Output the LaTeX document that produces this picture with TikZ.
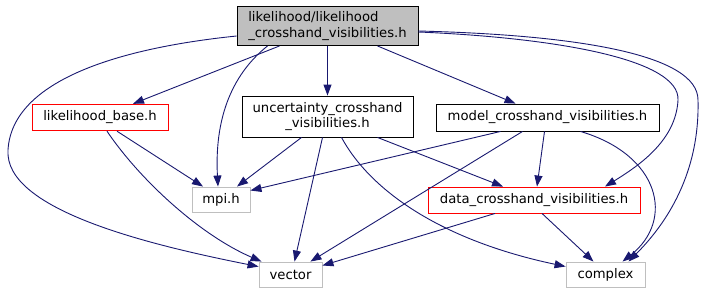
\documentclass[tikz,border=0pt]{standalone}
\usepackage{fontspec}
\setmainfont{DejaVu Sans}
\usetikzlibrary{arrows.meta,calc}
\definecolor{edgeblue}{HTML}{191970}
\definecolor{boxgray}{HTML}{BFBFBF}
\definecolor{boxred}{HTML}{FF0000}
\begin{document}
\begin{tikzpicture}[x=1pt,y=-1pt,
  every node/.style={font=\fontsize{13.2}{15.3}\selectfont, inner sep=0pt, text=black},
  filebox/.style={draw=black, fill=white, line width=0.9pt},
  mainbox/.style={draw=black, fill=boxgray, line width=0.9pt, align=left},
  redbox/.style={draw=boxred, fill=white, line width=0.9pt},
  sysbox/.style={draw=boxgray, fill=white, line width=0.9pt},
  edge/.style={draw=edgeblue, line width=0.9pt, -{Triangle[length=11pt,width=8pt]}}]
\useasboundingbox (0,0) rectangle (706,293);

% headers
\node[mainbox, minimum width=181, minimum height=39] (top) at (327.5,26)
  {likelihood/likelihood\\\_crosshand\_visibilities.h};
\node[redbox, minimum width=136, minimum height=26.5] (lb) at (100,117.5) {likelihood\_base.h};
\node[filebox, minimum width=171, minimum height=41, align=center] (unc) at (327.5,116.5)
  {uncertainty\_crosshand\\\_visibilities.h};
\node[filebox, minimum width=223, minimum height=27] (model) at (547.5,117.5) {model\_crosshand\_visibilities.h};
\node[sysbox, minimum width=58, minimum height=25] (mpi) at (221,199.5) {mpi.h};
\node[redbox, minimum width=212, minimum height=26] (data) at (534,200) {data\_crosshand\_visibilities.h};
\node[sysbox, minimum width=63, minimum height=25] (vec) at (290.5,274.5) {vector};
\node[sysbox, minimum width=79, minimum height=25] (cpx) at (605.5,274.5) {complex};

% includes of the main header
\draw[edge] ($(top.south)+(-48,0)$) -- ($(lb.north)+(33,0)$);
\draw[edge] ($(top.west)+(0,10)$) .. controls (120,48) and (12,80) .. (8,150)
  .. controls (4,210) and (150,245) .. ($(vec.north west)+(0,5)$);
\draw[edge] ($(top.south)+(-60,0)$) .. controls (225,80) and (215,130) .. ($(mpi.north)+(-3,0)$);
\draw[edge] (top.south) -- (unc.north);
\draw[edge] ($(top.south)+(50,0)$) -- ($(model.north)+(-32,0)$);
\draw[edge] ($(top.east)+(0,6)$) .. controls (560,38) and (680,60) .. (678,100)
  .. controls (676,140) and (640,165) .. ($(data.north)+(71,0)$);
\draw[edge] ($(top.east)+(0,5)$) .. controls (580,35) and (698,55) .. (698,100)
  .. controls (700,180) and (660,230) .. ($(cpx.north)+(23,0)$);

% likelihood_base.h
\draw[edge] ($(lb.south)+(17,0)$) -- ($(mpi.north)+(-18,0)$);
\draw[edge] ($(lb.south)+(7,0)$) .. controls (140,180) and (200,235) .. ($(vec.north west)+(3,0)$);

% uncertainty_crosshand_visibilities.h
\draw[edge] ($(unc.south)+(-26,0)$) -- ($(mpi.north)+(16,0)$);
\draw[edge] ($(unc.south)+(-5,0)$) -- ($(vec.north)+(4,0)$);
\draw[edge] ($(unc.south)+(14,0)$) .. controls (370,190) and (440,240) .. ($(cpx.west)+(0,-8)$);
\draw[edge] ($(unc.south)+(50,0)$) -- ($(data.north)+(-31,0)$);

% model_crosshand_visibilities.h
\draw[edge] ($(model.south)+(-47,0)$) -- ($(mpi.east)+(0,-9)$);
\draw[edge] ($(model.south)+(-25,0)$) -- ($(vec.north east)+(-12,0)$);
\draw[edge] ($(model.south)+(-3,0)$) -- ($(data.north)+(3,0)$);
\draw[edge] ($(model.south)+(33,0)$) .. controls (660,155) and (675,220) .. ($(cpx.north)+(17,0)$);

% data_crosshand_visibilities.h
\draw[edge] ($(data.south)+(-39,0)$) -- ($(vec.east)+(0,-9)$);
\draw[edge] ($(data.south)+(8,0)$) -- ($(cpx.north)+(-12,0)$);
\end{tikzpicture}
\end{document}
